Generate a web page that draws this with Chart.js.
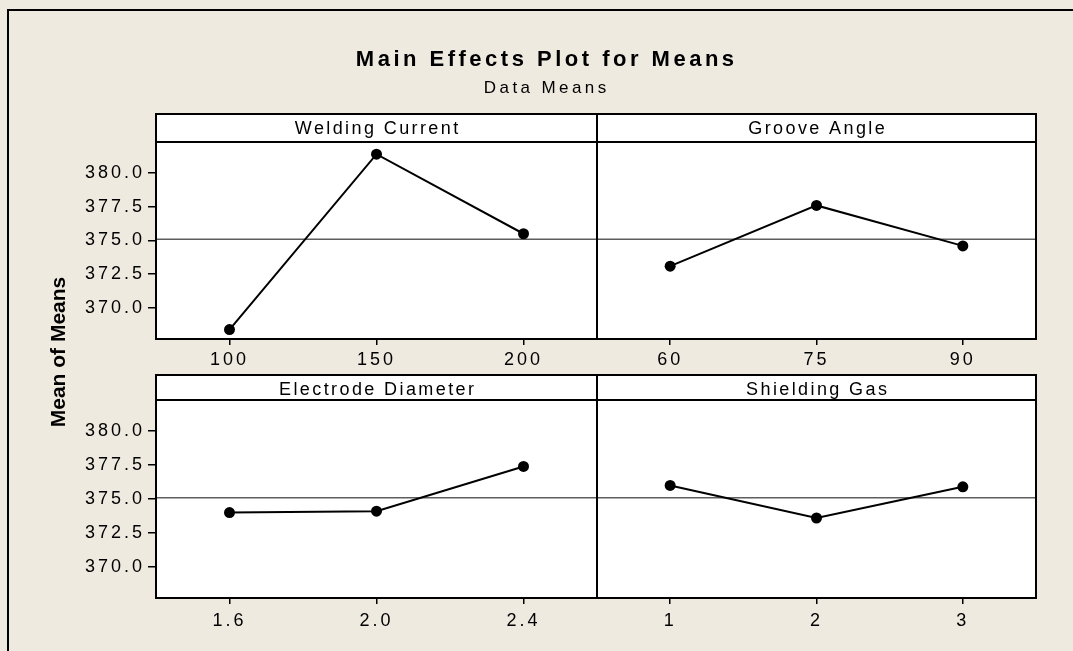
<!DOCTYPE html>
<html>
<head>
<meta charset="utf-8">
<script src="https://cdn.jsdelivr.net/npm/chart.js@4/dist/chart.umd.min.js"></script>
<style>
  html, body { margin: 0; padding: 0; background: #EEEAE0; overflow: hidden; }
  #frame { position: absolute; left: 7px; top: 9px; width: 1200px; height: 800px;
           border-left: 2px solid #000; border-top: 2px solid #000; }
  canvas { position: absolute; left: 0; top: 0; }
</style>
</head>
<body>
<div id="frame"></div>
<canvas id="pWC" width="1073" height="651"></canvas>
<canvas id="pGA" width="1073" height="651"></canvas>
<canvas id="pED" width="1073" height="651"></canvas>
<canvas id="pSG" width="1073" height="651"></canvas>
<script>
// Factor names and levels
const factorNames = ['Welding Current', 'Groove Angle', 'Electrode Diameter', 'Shielding Gas'];
const currentLevels = ['100', '150', '200'];
const angleLevels = ['60', '75', '90'];
const diameterLevels = ['1.6', '2.0', '2.4'];
const gasLevels = ['1', '2', '3'];

// Mean response at each level
const currentMeans = [368.4, 381.4, 375.5];
const angleMeans = [373.1, 377.6, 374.6];
const diameterMeans = [374.0, 374.1, 377.4];
const gasMeans = [376.0, 373.6, 375.9];
const grandMean = 375.1;

// Shared y axis
const yTicks = [370, 372.5, 375, 377.5, 380];
const yMin = 367.7, yMax = 382.3;

const W = 1073, H = 651;
const FONT = "'Liberation Sans', Arial, sans-serif";

// panel geometry: plot area and strip header
const rows = [
  { stripTop: 114, top: 142, bottom: 339, labelPad: 4 },
  { stripTop: 375, top: 400, bottom: 598, labelPad: 6.5 }
];
const cols = [
  { left: 156, right: 597, showY: true },
  { left: 597, right: 1036, showY: false }
];
const Y_AXIS_W = 100, X_AXIS_H = 40;

// white plot area, framed strip header with the factor name
const panelPlugin = {
  id: 'panel',
  beforeDraw(chart, args, opts) {
    const ctx = chart.ctx, a = chart.chartArea;
    ctx.save();
    ctx.fillStyle = '#FFFFFF';
    ctx.fillRect(a.left, a.top, a.right - a.left, a.bottom - a.top);
    ctx.fillRect(a.left, opts.stripTop, a.right - a.left, a.top - opts.stripTop);
    ctx.restore();
    ctx.letterSpacing = '3px';
  },
  afterDatasetsDraw(chart, args, opts) {
    const ctx = chart.ctx, a = chart.chartArea;
    ctx.save();
    ctx.strokeStyle = '#000';
    ctx.lineWidth = 2;
    ctx.strokeRect(a.left, a.top, a.right - a.left, a.bottom - a.top);
    ctx.strokeRect(a.left, opts.stripTop, a.right - a.left, a.top - opts.stripTop);
    ctx.fillStyle = '#000';
    ctx.font = "18px " + FONT;
    ctx.letterSpacing = '2.4px';
    ctx.textAlign = 'center';
    ctx.textBaseline = 'alphabetic';
    ctx.fillText(opts.name, (a.left + a.right) / 2 + 1.2, opts.stripTop + 20);
    ctx.restore();
  }
};

// figure title, subtitle and shared y-axis title
const titlePlugin = {
  id: 'figTitles',
  afterDraw(chart) {
    const ctx = chart.ctx;
    ctx.save();
    ctx.fillStyle = '#000';
    ctx.textAlign = 'center';
    ctx.textBaseline = 'alphabetic';
    ctx.font = "bold 22px " + FONT;
    ctx.letterSpacing = '3.5px';
    ctx.fillText('Main Effects Plot for Means', 545 + 1.7, 66);
    ctx.font = "17px " + FONT;
    ctx.letterSpacing = '3.4px';
    ctx.fillText('Data Means', 545 + 1.7, 93);
    ctx.letterSpacing = '0px';
    ctx.translate(59, 352);
    ctx.rotate(-Math.PI / 2);
    ctx.font = "bold 21px " + FONT;
    ctx.textBaseline = 'middle';
    ctx.fillText('Mean of Means', 0, 0);
    ctx.restore();
  }
};

function makePanel(id, name, levels, means, row, col, extraPlugins) {
  const r = rows[row], c = cols[col];
  const padLeft = c.showY ? c.left - Y_AXIS_W : c.left;
  return new Chart(document.getElementById(id), {
    type: 'line',
    data: {
      datasets: [
        {
          data: means.map((v, i) => ({ x: i, y: v })),
          borderColor: '#000',
          borderWidth: 2,
          pointRadius: 5.5,
          pointBackgroundColor: '#000',
          pointBorderWidth: 0,
          tension: 0,
          clip: false
        },
        {
          data: [{ x: -0.5, y: grandMean }, { x: 2.5, y: grandMean }],
          borderColor: '#5E5E5E',
          borderWidth: 1.5,
          pointRadius: 0
        }
      ]
    },
    options: {
      responsive: false,
      animation: false,
      devicePixelRatio: 1,
      events: [],
      layout: {
        padding: { left: padLeft, right: W - c.right, top: r.top, bottom: H - r.bottom - X_AXIS_H }
      },
      plugins: {
        legend: { display: false },
        tooltip: { enabled: false },
        title: { display: false },
        panel: { name: name, stripTop: r.stripTop }
      },
      scales: {
        x: {
          type: 'linear',
          min: -0.5,
          max: 2.5,
          afterBuildTicks: s => { s.ticks = levels.map((_, i) => ({ value: i })); },
          afterFit: s => { s.height = X_AXIS_H; },
          ticks: {
            callback: v => levels[v],
            color: '#000',
            font: { family: FONT, size: 18 },
            padding: r.labelPad,
            maxRotation: 0,
            autoSkip: false
          },
          grid: { drawOnChartArea: false, drawTicks: true, tickLength: 6, color: '#000', lineWidth: 1.5 },
          border: { display: false }
        },
        y: {
          display: c.showY,
          min: yMin,
          max: yMax,
          afterBuildTicks: s => { s.ticks = yTicks.map(v => ({ value: v })); },
          afterFit: s => { s.width = c.showY ? Y_AXIS_W : 0; },
          ticks: {
            callback: v => v.toFixed(1),
            color: '#000',
            font: { family: FONT, size: 18 },
            padding: 3
          },
          grid: { drawOnChartArea: false, drawTicks: true, tickLength: 8, color: '#000', lineWidth: 1.5 },
          border: { display: false }
        }
      }
    },
    plugins: [panelPlugin].concat(extraPlugins || [])
  });
}

makePanel('pWC', factorNames[0], currentLevels, currentMeans, 0, 0, [titlePlugin]);
makePanel('pGA', factorNames[1], angleLevels, angleMeans, 0, 1);
makePanel('pED', factorNames[2], diameterLevels, diameterMeans, 1, 0);
makePanel('pSG', factorNames[3], gasLevels, gasMeans, 1, 1);
</script>
</body>
</html>
